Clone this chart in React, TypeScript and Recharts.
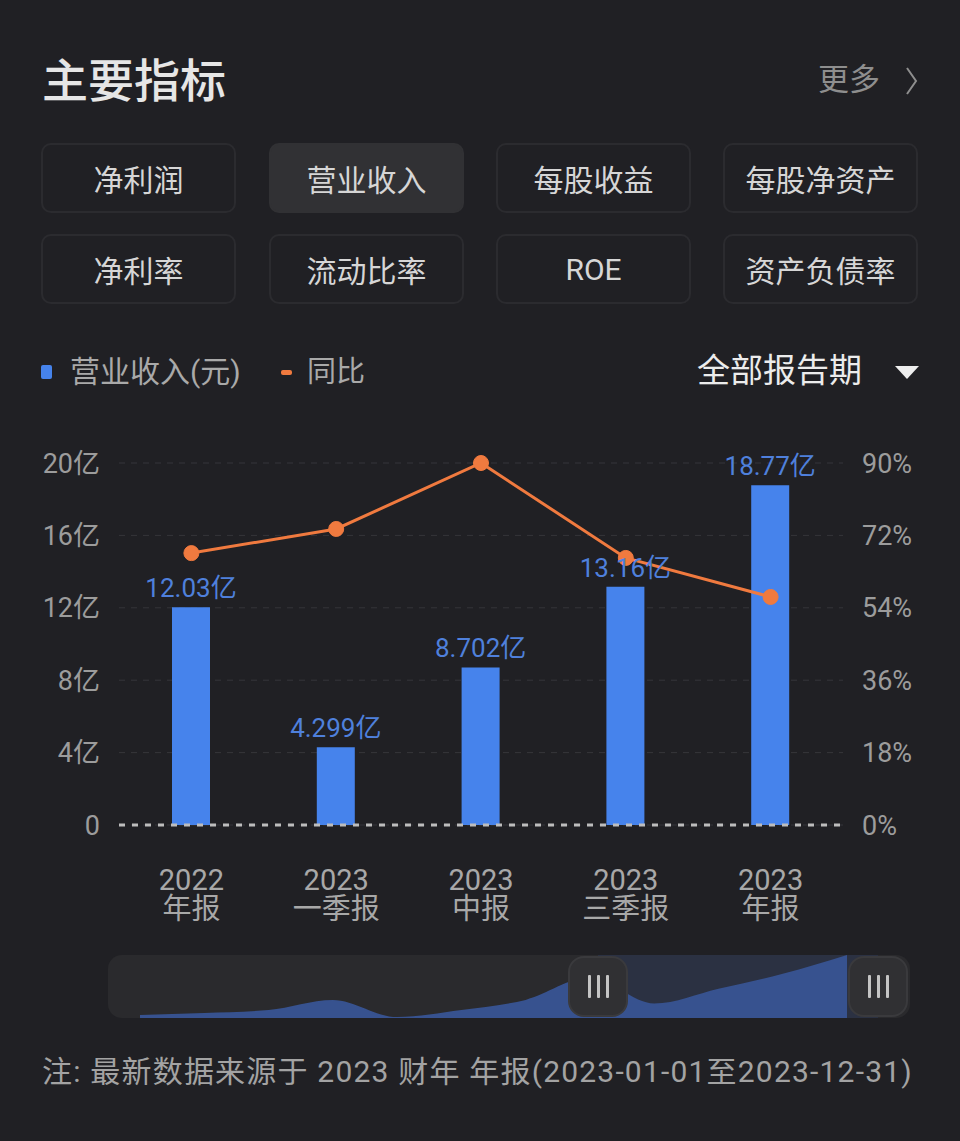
import React from 'react';
import {
  ComposedChart, Bar, Line, XAxis, YAxis, CartesianGrid, ReferenceLine, LabelList,
  AreaChart, Area,
} from 'recharts';

// ---------- data ----------
const periodYears = ['2022', '2023', '2023', '2023', '2023'];
const periodNames = ['年报', '一季报', '中报', '三季报', '年报'];
const revenue = [12.03, 4.299, 8.702, 13.16, 18.77]; // 亿元
const revenueLabels = ['12.03亿', '4.299亿', '8.702亿', '13.16亿', '18.77亿'];
const yoy = [67.6, 73.6, 90.0, 66.4, 56.7]; // %
const leftTicks = [0, 4, 8, 12, 16, 20];
const rightTicks = [0, 18, 36, 54, 72, 90];
const overviewRevenue = [0.9, 1.5, 2.4, 5.4, 0.3, 2.4, 5.4, 12.03, 4.299, 8.702, 13.16, 18.77];

const metricButtons = ['净利润', '营业收入', '每股收益', '每股净资产', '净利率', '流动比率', 'ROE', '资产负债率'];
const selectedMetric = '营业收入';

const chartData = periodYears.map((y, i) => ({
  period: y + '\n' + periodNames[i],
  revenue: revenue[i],
  label: revenueLabels[i],
  yoy: yoy[i],
}));
const overviewData = overviewRevenue.map((v, i) => ({ i, v }));

// ---------- style ----------
const FONT = "Roboto, 'Noto Sans CJK SC', sans-serif";
const BG = '#202024';
const BLUE = '#4683ec';
const ORANGE = '#f07a3f';
const AXIS_GRAY = '#9c9c9c';

const XTick = (props: any) => {
  const { x, y, payload } = props;
  const [yr, nm] = String(payload.value).split('\n');
  return (
    <text x={x} y={y + 65} textAnchor="middle" fill="#a8a8a8" fontSize={29} fontFamily={FONT}>
      <tspan x={x}>{yr}</tspan>
      <tspan x={x} dy={29}>{nm}</tspan>
    </text>
  );
};

const btnCols = [41, 269, 496, 723];
const btnRows = [143, 234];

function Handle({ left }: { left: number }) {
  return (
    <div style={{
      position: 'absolute', left, top: 956, width: 60, height: 61, borderRadius: 16,
      background: '#303033', border: '2px solid #3a3a3d', boxSizing: 'border-box',
      display: 'flex', alignItems: 'center', justifyContent: 'center', gap: 6,
    }}>
      {[0, 1, 2].map(k => (
        <div key={k} style={{ width: 3, height: 23, background: '#c4c4c4', borderRadius: 1 }} />
      ))}
    </div>
  );
}

export default function App() {
  return (
    <div style={{
      position: 'absolute', left: 0, top: 0, width: 960, height: 1141, background: BG,
      fontFamily: FONT, overflow: 'hidden',
    }}>
      {/* header */}
      <div style={{ position: 'absolute', left: 42, top: 56, fontSize: 46, lineHeight: '50px', color: '#e6e6e6', fontWeight: 500 }}>主要指标</div>
      <div style={{ position: 'absolute', left: 818, top: 62, fontSize: 31, lineHeight: '36px', color: '#8e8e8e' }}>更多</div>
      <svg style={{ position: 'absolute', left: 900, top: 64 }} width={24} height={34}>
        <polyline points="7,4 16,17 7,30" fill="none" stroke="#8e8e8e" strokeWidth={2} />
      </svg>

      {/* metric buttons */}
      {metricButtons.map((m, i) => {
        const sel = m === selectedMetric;
        return (
          <div key={m} style={{
            position: 'absolute', left: btnCols[i % 4], top: btnRows[Math.floor(i / 4)],
            width: 195, height: 70, boxSizing: 'border-box', borderRadius: 10,
            border: sel ? '2px solid #313134' : '2px solid #2b2b2f',
            background: sel ? '#313134' : BG,
            display: 'flex', alignItems: 'center', justifyContent: 'center',
            fontSize: 30, color: '#d6d6d6',
          }}>{m}</div>
        );
      })}

      {/* legend */}
      <div style={{ position: 'absolute', left: 41, top: 365, width: 11, height: 14, borderRadius: 2, background: BLUE }} />
      <div style={{ position: 'absolute', left: 70, top: 353, fontSize: 30, lineHeight: '38px', color: '#a9a9a9' }}>营业收入(元)</div>
      <div style={{ position: 'absolute', left: 281, top: 370, width: 11, height: 5, borderRadius: 2, background: ORANGE }} />
      <div style={{ position: 'absolute', left: 307, top: 353, fontSize: 29, lineHeight: '38px', color: '#a9a9a9' }}>同比</div>
      <div style={{ position: 'absolute', left: 697, top: 351, fontSize: 33, lineHeight: '40px', color: '#ececec' }}>全部报告期</div>
      <svg style={{ position: 'absolute', left: 893, top: 364 }} width={28} height={16}>
        <polygon points="2,2 26,2 14,15" fill="#eeeeee" />
      </svg>

      {/* main chart */}
      <div style={{ position: 'absolute', left: 0, top: 420 }}>
        <ComposedChart width={960} height={520} data={chartData}
          margin={{ top: 43, right: 0, bottom: 15, left: 0 }}>
          <CartesianGrid vertical={false} stroke="#35353a" strokeDasharray="6 6" yAxisId="left" />
          <XAxis dataKey="period" axisLine={false} tickLine={false} tickSize={0} tickMargin={0}
            height={100} tick={<XTick />} interval={0} />
          <YAxis yAxisId="left" orientation="left" width={119} domain={[0, 20]} ticks={leftTicks}
            axisLine={false} tickLine={false} tickSize={0} tickMargin={19}
            tick={{ fill: AXIS_GRAY, fontSize: 27, fontFamily: FONT }}
            tickFormatter={(v: number) => (v === 0 ? '0' : v + '亿')} />
          <YAxis yAxisId="right" orientation="right" width={117} domain={[0, 90]} ticks={rightTicks}
            axisLine={false} tickLine={false} tickSize={0} tickMargin={19}
            tick={{ fill: AXIS_GRAY, fontSize: 27, fontFamily: FONT, textAnchor: 'start' }}
            tickFormatter={(v: number) => v + '%'} />
          <ReferenceLine yAxisId="left" y={0} stroke="#bdbdbd" strokeWidth={3} strokeDasharray="6 7" />
          <Bar yAxisId="left" dataKey="revenue" fill={BLUE} barSize={38} isAnimationActive={false}>
            <LabelList dataKey="label" position="top" offset={10} fill="#4f80dc" fontSize={26} fontFamily={FONT} />
          </Bar>
          <Line yAxisId="right" dataKey="yoy" type="linear" stroke={ORANGE} strokeWidth={3}
            dot={{ r: 7.5, fill: ORANGE, stroke: ORANGE, strokeWidth: 1 }} activeDot={false} isAnimationActive={false} />
        </ComposedChart>
      </div>

      {/* overview slider */}
      <div style={{ position: 'absolute', left: 108, top: 955, width: 802, height: 63, borderRadius: 14, background: '#2a2a2d' }} />
      <div style={{ position: 'absolute', left: 598, top: 955, width: 280, height: 63, background: '#2b3142' }} />
      <div style={{ position: 'absolute', left: 140, top: 955 }}>
        <AreaChart width={707} height={63} data={overviewData} margin={{ top: 0, right: 0, bottom: 0, left: 0 }}>
          <XAxis dataKey="i" hide />
          <YAxis hide domain={[0, 18.77]} />
          <Area type="monotone" dataKey="v" stroke="none" fill="#37528f" fillOpacity={1} isAnimationActive={false} />
        </AreaChart>
      </div>
      <Handle left={568} />
      <Handle left={848} />

      {/* footnote */}
      <div style={{ position: 'absolute', left: 42, top: 1053, fontSize: 30, lineHeight: '38px', color: '#a3a3a3', whiteSpace: 'nowrap', letterSpacing: 1.2 }}>
        注: 最新数据来源于 2023 财年 年报(2023-01-01至2023-12-31)
      </div>
    </div>
  );
}
